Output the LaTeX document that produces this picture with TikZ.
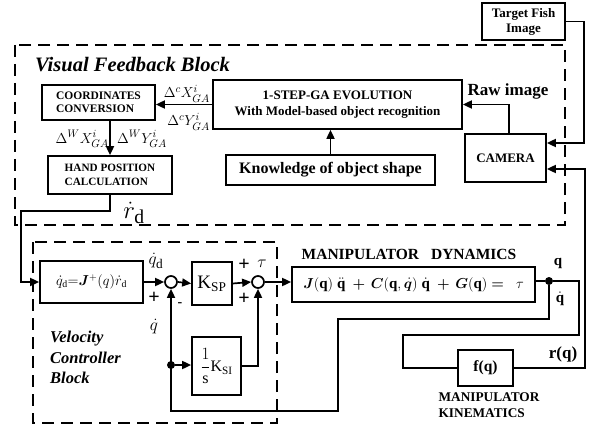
\documentclass[tikz,border=0pt]{standalone}
\usepackage{fontspec}
\setmainfont{Liberation Serif}
\usepackage{amsmath,bm}
\usetikzlibrary{arrows.meta}
\begin{document}
\begin{tikzpicture}[x=1pt,y=-1pt,
  bx/.style={draw,line width=1.7pt,inner sep=0pt,align=center,font=\bfseries},
  ln/.style={line width=1.7pt},
  arr/.style={line width=1.7pt,-{Triangle[length=9pt,width=8pt]}},
  blockline/.style={line width=2.7pt,dash pattern=on 12pt off 7pt},
  sumj/.style={draw,circle,line width=1.7pt,minimum size=12pt,inner sep=0pt,fill=white},
  dotn/.style={circle,fill=black,minimum size=8pt,inner sep=0pt},
  lbl/.style={inner sep=0pt}]
\useasboundingbox (0,0) rectangle (593,430);
% dashed blocks
\draw[blockline] (15,45) rectangle (565,225);
\draw[blockline] (33,242) rectangle (277,423);
% boxes
\node[bx,minimum width=83pt,minimum height=37pt,font=\bfseries\fontsize{13}{15}\selectfont] (tgt) at (523.5,21.5) {Target Fish\\Image};
\node[bx,minimum width=113pt,minimum height=35pt,align=left,font=\bfseries\fontsize{11.5}{13.5}\selectfont] (coord) at (98.5,102.5) {COORDINATES\\CONVERSION};
\node[bx,minimum width=249pt,minimum height=49pt,font=\bfseries\fontsize{13}{16}\selectfont] (ga) at (337.5,104.5) {1-STEP-GA EVOLUTION\\With Model-based object recognition};
\node[bx,minimum width=124pt,minimum height=38pt,align=left,font=\bfseries\fontsize{11.2}{14}\selectfont] (hand) at (110,175) {HAND POSITION\\CALCULATION};
\node[bx,minimum width=209pt,minimum height=30pt,font=\bfseries\fontsize{16}{18}\selectfont] (know) at (330.5,170) {Knowledge of object shape};
\node[bx,minimum width=81pt,minimum height=48pt,font=\bfseries\fontsize{13}{15}\selectfont] (cam) at (505.5,158) {CAMERA};
\node[bx,minimum width=103pt,minimum height=42pt,font=\fontsize{14}{16}\selectfont] (qd) at (91.5,282) {$\dot{q}_{\mathrm{d}}{=}\bm{J}^{+}(q)\dot{r}_{\mathrm{d}}$};
\node[bx,minimum width=40pt,minimum height=43pt,font=\fontsize{19}{21}\selectfont] (ksp) at (212,283.5) {$\mathrm{K_{SP}}$};
\node[bx,minimum width=49pt,minimum height=58pt,font=\fontsize{16}{18}\selectfont] (ksi) at (216.5,366) {$\dfrac{1}{\mathrm{s}}\mathrm{K_{SI}}$};
\node[bx,minimum width=243pt,minimum height=35pt,font=\fontsize{15}{16}\selectfont] (dyn) at (413.5,284.5) {$\bm{J}(\mathbf{q})\;\ddot{\mathbf{q}}\;\bm{+}\,\bm{C}(\mathbf{q},\dot{\bm{q}})\;\dot{\mathbf{q}}\;\bm{+}\,\bm{G}(\mathbf{q})\bm{=}\;\;\tau$};
\node[bx,minimum width=55pt,minimum height=36pt,font=\bfseries\fontsize{15.5}{17}\selectfont] (fq) at (485.5,368) {f(q)};
\node[sumj] (s1) at (171,282) {};
\node[sumj] (s2) at (258,282) {};
\node[dotn] (d1) at (171,365) {};
\node[dotn] (d2) at (549,281) {};
% junction coordinates
\coordinate (t1) at (584,143);
\coordinate (r1) at (585,169);
\coordinate (h1) at (21,211);
\coordinate (q1) at (579,335);
\coordinate (q2) at (403,335);
\coordinate (v1) at (549,319);
\coordinate (v2) at (338,319);
\coordinate (v3) at (338,411);
\coordinate (v4) at (171,411);
\coordinate (k1) at (258,366);
% labels
\node[lbl,font=\bfseries\itshape\fontsize{20.5}{22}\selectfont,anchor=west] (vfb) at (35,65) {Visual Feedback Block};
\node[lbl,font=\fontsize{15.5}{18}\selectfont,anchor=east] (l1) at (210,94) {$\Delta^{c}X^{i}_{GA}$};
\node[lbl,font=\fontsize{15.5}{18}\selectfont,anchor=east] (l2) at (210,122) {$\Delta^{c}Y^{i}_{GA}$};
\node[lbl,font=\fontsize{15}{18}\selectfont,anchor=east] (l3) at (109,139) {$\Delta^{W}X^{i}_{GA}$};
\node[lbl,font=\fontsize{15}{18}\selectfont,anchor=west] (l4) at (117,139) {$\Delta^{W}Y^{i}_{GA}$};
\node[lbl,font=\bfseries\fontsize{17}{19}\selectfont] (raw) at (508,91) {Raw image};
\node[lbl,font=\fontsize{28}{30}\selectfont] (rd) at (134,213) {$\dot{r}_{\mathrm{d}}$};
\node[lbl,font=\fontsize{19}{21}\selectfont] (lqd) at (156,261) {$\dot{q}_{\mathrm{d}}$};
\node[lbl,font=\bfseries\fontsize{20}{20}\selectfont] (p1) at (154,298) {+};
\node[lbl,font=\bfseries\fontsize{14}{14}\selectfont] (m1) at (180,305) {-};
\node[lbl,font=\fontsize{19}{21}\selectfont] (lq) at (154,327) {$\dot{q}$};
\node[lbl,font=\bfseries\fontsize{20}{20}\selectfont] (p2) at (244,265) {+};
\node[lbl,font=\fontsize{19}{21}\selectfont] (tau) at (262,264) {$\tau$};
\node[lbl,font=\bfseries\fontsize{20}{20}\selectfont] (p3) at (244,299) {+};
\node[lbl,font=\bfseries\itshape\fontsize{16.5}{20.5}\selectfont,align=left,anchor=north west] (vcb) at (50,331) {Velocity\\Controller\\Block};
\node[lbl,font=\bfseries\fontsize{15.5}{17}\selectfont] (md) at (409,254) {MANIPULATOR\hspace{12pt}DYNAMICS};
\node[lbl,font=\bfseries\fontsize{15}{17}\selectfont] (lqo) at (558,263) {q};
\node[lbl,font=\bfseries\fontsize{15}{17}\selectfont] (lqdo) at (560,299) {$\dot{\mathbf{q}}$};
\node[lbl,font=\bfseries\fontsize{17}{19}\selectfont] (rq) at (563,354) {r(q)};
\node[lbl,font=\bfseries\fontsize{13.3}{16}\selectfont,align=left] (mk) at (489,405) {MANIPULATOR\\KINEMATICS};
% connectors
\draw[arr] (tgt.east) -| (t1) -- (t1 -| cam.east);
\draw[arr] (fq.east) -| (r1) -- (r1 -| cam.east);
\draw[arr] ([xshift=3.5pt]cam.north) |- (ga.east);
\draw[arr] (ga.west) -- (ga.west -| coord.east);
\draw[arr] (coord.south -| hand.north) -- (hand.north);
\draw[arr] (know.north) -- (know.north |- ga.south);
\draw[arr] (hand.south) |- (h1) |- (qd.west);
\draw[arr] (qd.east) -- (s1.west);
\draw[arr] (s1.east) -- (ksp.west);
\draw[arr] (ksp.east) -- (s2.west);
\draw[arr] (s2.east) -- (s2.east -| dyn.west);
\draw[ln] (dyn.east |- d2) -- (d2);
\draw[ln] (d2) -| (q1) -- (q2) |- (fq.west);
\draw[arr] (d2) -- (v1) -- (v2) -- (v3) -- (v4) -- (s1.south);
\draw[arr] (d1) -- (d1 -| ksi.west);
\draw[arr] (ksi.east |- k1) -- (k1) -- (s2.south);
\end{tikzpicture}
\end{document}
